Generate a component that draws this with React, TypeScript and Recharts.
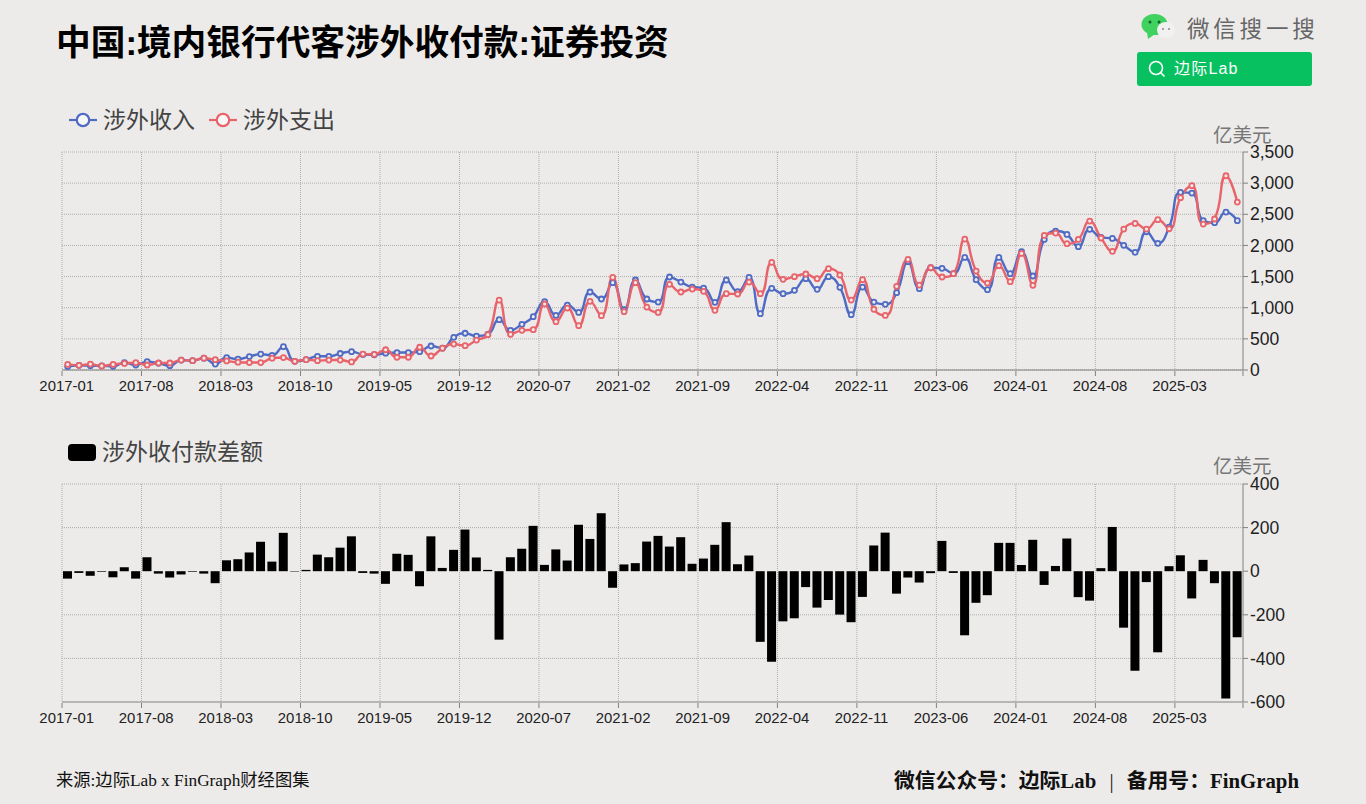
import { Bar, BarChart, CartesianGrid, Line, LineChart, XAxis, YAxis } from "recharts";

const months = [
  "2017-01", "2017-02", "2017-03", "2017-04", "2017-05", "2017-06", "2017-07", "2017-08", "2017-09", "2017-10", "2017-11", "2017-12",
  "2018-01", "2018-02", "2018-03", "2018-04", "2018-05", "2018-06", "2018-07", "2018-08", "2018-09", "2018-10", "2018-11", "2018-12",
  "2019-01", "2019-02", "2019-03", "2019-04", "2019-05", "2019-06", "2019-07", "2019-08", "2019-09", "2019-10", "2019-11", "2019-12",
  "2020-01", "2020-02", "2020-03", "2020-04", "2020-05", "2020-06", "2020-07", "2020-08", "2020-09", "2020-10", "2020-11", "2020-12",
  "2021-01", "2021-02", "2021-03", "2021-04", "2021-05", "2021-06", "2021-07", "2021-08", "2021-09", "2021-10", "2021-11", "2021-12",
  "2022-01", "2022-02", "2022-03", "2022-04", "2022-05", "2022-06", "2022-07", "2022-08", "2022-09", "2022-10", "2022-11", "2022-12",
  "2023-01", "2023-02", "2023-03", "2023-04", "2023-05", "2023-06", "2023-07", "2023-08", "2023-09", "2023-10", "2023-11", "2023-12",
  "2024-01", "2024-02", "2024-03", "2024-04", "2024-05", "2024-06", "2024-07", "2024-08", "2024-09", "2024-10", "2024-11", "2024-12",
  "2025-01", "2025-02", "2025-03", "2025-04", "2025-05", "2025-06", "2025-07", "2025-08",
];

const income = [
  55, 75, 70, 65, 60, 118, 80, 135, 110, 70, 160, 150,
  190, 95, 200, 175, 215, 255, 235, 375, 140, 165, 220, 220,
  265, 295, 250, 245, 270, 280, 280, 295, 385, 350, 524, 590,
  545, 573, 808, 637, 733, 856, 1097, 877, 1043, 925, 1252, 1140,
  1402, 967, 1445, 1140, 1091, 1493, 1412, 1332, 1316, 1086, 1445, 1257,
  1487, 904, 1311, 1225, 1279, 1466, 1295, 1498, 1327, 888, 1332, 1091,
  1054, 1241, 1739, 1305, 1642, 1632, 1546, 1808, 1450, 1289, 1808, 1546,
  1899, 1509, 2097, 2231, 2177, 1980, 2258, 2129, 2113, 2001, 1889, 2220,
  2033, 2295, 2852, 2841, 2397, 2365, 2536, 2397,
];

const expense = [
  90, 75, 95, 65, 90, 105, 118, 80, 112, 112, 160, 150,
  190, 165, 145, 125, 120, 120, 190, 200, 140, 165, 150, 160,
  160, 130, 255, 250, 325, 205, 205, 365, 225, 350, 417, 390,
  481, 567, 1123, 572, 637, 647, 1060, 776, 995, 712, 1102, 872,
  1487, 936, 1402, 1011, 925, 1375, 1252, 1300, 1263, 958, 1225, 1220,
  1412, 1225, 1728, 1455, 1498, 1541, 1466, 1626, 1525, 1123, 1450, 974,
  877, 1343, 1776, 1364, 1642, 1493, 1546, 2102, 1589, 1396, 1675, 1418,
  1872, 1359, 2161, 2199, 2028, 2097, 2391, 2119, 1905, 2263, 2354, 2263,
  2413, 2268, 2766, 2959, 2343, 2424, 3119, 2696,
];

const balance = [
  -34, -8, -21, -3, -28, 18, -34, 64, -11, -29, -15, -3,
  -11, -55, 50, 55, 86, 135, 44, 176, -2, 6, 76, 64,
  108, 160, -8, -11, -58, 80, 75, -69, 160, 15, 98, 191,
  63, 6, -314, 64, 103, 208, 29, 100, 49, 213, 148, 266,
  -76, 31, 37, 136, 162, 113, 156, 34, 58, 121, 225, 32,
  72, -324, -415, -230, -216, -73, -167, -132, -199, -234, -118, 118,
  177, -103, -29, -52, -9, 139, -8, -294, -145, -110, 130, 130,
  29, 144, -63, 24, 150, -119, -135, 14, 203, -259, -457, -50,
  -372, 23, 73, -125, 52, -55, -584, -303,
];

const lineTicks = [0, 500, 1000, 1500, 2000, 2500, 3000, 3500];
const barTicks = [-600, -400, -200, 0, 200, 400];
const barGridValues = [-400, -200, 200, 400];

const lineData = months.map((month, i) => ({ month, income: income[i], expense: expense[i] }));
const barData = months.map((month, i) => ({ month, balance: balance[i] }));

const BLUE = "#4f6bc4";
const RED = "#e9636b";
const BG = "#ecebe9";
const CHART_WIDTH = 1366;
const TICK_EVERY = 7;
const SANS = '"Liberation Sans", "Noto Sans CJK SC", sans-serif';
const SERIF = '"Liberation Serif", "Noto Sans CJK SC", serif';
const band = (1243 - 62) / months.length;

const clamp = (v: number, a: number, b: number) => Math.max(Math.min(a, b), Math.min(v, Math.max(a, b)));

// rounder than "monotone": long bezier handles, clamped so peaks do not overshoot
function smoothCurve(context: any) {
  let pts: [number, number][] = [];
  const smooth = 0.5;
  return {
    areaStart() {},
    areaEnd() {},
    lineStart() {
      pts = [];
    },
    point(x: number, y: number) {
      pts.push([+x, +y]);
    },
    lineEnd() {
      const outCp: [number, number][] = [];
      const inCp: [number, number][] = [];
      pts.forEach(([x, y], i) => {
        const prev = pts[Math.max(i - 1, 0)];
        const next = pts[Math.min(i + 1, pts.length - 1)];
        const d0 = Math.hypot(x - prev[0], y - prev[1]);
        const d1 = Math.hypot(next[0] - x, next[1] - y);
        const sum = d0 + d1 || 1;
        const ox = clamp(x + (next[0] - prev[0]) * smooth * (d1 / sum), x, next[0]);
        const oy = clamp(y + (next[1] - prev[1]) * smooth * (d1 / sum), y, next[1]);
        const k = d1 ? d0 / d1 : 0;
        const ix = clamp(x - (ox - x) * k, x, prev[0]);
        const iy = clamp(y - (oy - y) * k, y, prev[1]);
        const back = d0 ? d1 / d0 : 0;
        inCp.push([ix, iy]);
        outCp.push(d0 ? [x + (x - ix) * back, y + (y - iy) * back] : [ox, oy]);
      });
      pts.forEach(([x, y], i) => {
        if (i === 0) context.moveTo(x, y);
        else context.bezierCurveTo(outCp[i - 1][0], outCp[i - 1][1], inCp[i][0], inCp[i][1], x, y);
      });
    },
  };
}

// labels sit on the band centre, tick marks on the band edge
function MonthTick({ x, y, payload }: any) {
  const edge = x - band / 2;
  const isLast = payload.value === "2025-03";
  return (
    <g>
      <line x1={edge} x2={edge} y1={y - 2} y2={y + 3} stroke="#808080" />
      {isLast && (
        <line x1={edge + band * 6} x2={edge + band * 6} y1={y - 2} y2={y + 3} stroke="#808080" />
      )}
      <text x={x - 1} y={y + 18} textAnchor="middle" fontSize={14.9} fontFamily={SANS} fill="#222">
        {payload.value}
      </text>
    </g>
  );
}

function gridColumns({ offset }: any) {
  const cols = [];
  for (let i = 0; i <= months.length; i += TICK_EVERY) {
    cols.push(offset.left + (i * offset.width) / months.length);
  }
  return cols;
}

function Label({ left, top, size, color, font, weight, spacing, children }: any) {
  return (
    <div
      style={{
        position: "absolute",
        left,
        top,
        fontSize: size,
        color,
        fontFamily: font ?? SANS,
        fontWeight: weight ?? 400,
        letterSpacing: spacing ?? 0,
        lineHeight: 1,
        whiteSpace: "nowrap",
      }}
    >
      {children}
    </div>
  );
}

function LegendLine({ left, color }: { left: number; color: string }) {
  return (
    <svg style={{ position: "absolute", left, top: 108 }} width={30} height={24}>
      <line x1={1} x2={29} y1={12} y2={12} stroke={color} strokeWidth={2.2} />
      <circle cx={15} cy={12} r={6.2} fill="#f7f7f7" stroke={color} strokeWidth={2.2} />
    </svg>
  );
}

function Badge() {
  return (
    <>
      <svg style={{ position: "absolute", left: 1139, top: 13 }} width={38} height={28}>
        <ellipse cx={15.5} cy={11.5} rx={13} ry={10.5} fill="#3fd25f" />
        <path d="M8 19 L9 26 L16 21 Z" fill="#3fd25f" />
        <circle cx={11} cy={9} r={1.5} fill="#18602c" />
        <circle cx={20} cy={9} r={1.5} fill="#18602c" />
        <ellipse cx={27} cy={17} rx={9} ry={8} fill="#f1f1f1" />
        <circle cx={24} cy={16} r={1} fill="#888" />
        <circle cx={30} cy={16} r={1} fill="#888" />
      </svg>
      <Label left={1187} top={19} size={22.5} color="#666" spacing={3.8}>微信搜一搜</Label>
      <div style={{ position: "absolute", left: 1137, top: 52, width: 175, height: 34, background: "#07c160", borderRadius: 3 }} />
      <svg style={{ position: "absolute", left: 1146, top: 58 }} width={22} height={22}>
        <circle cx={10} cy={10} r={6.5} fill="none" stroke="#fff" strokeWidth={1.6} />
        <line x1={14.8} y1={14.8} x2={18.5} y2={18.5} stroke="#fff" strokeWidth={1.6} />
      </svg>
      <Label left={1174} top={61} size={16} color="#fff" spacing={1.2}>边际Lab</Label>
    </>
  );
}

export default function App() {
  return (
    <div style={{ position: "absolute", left: 0, top: 0, width: 1366, height: 804, background: BG, overflow: "hidden" }}>
      <Label left={56} top={26} size={34.7} color="#000" weight={700}>中国:境内银行代客涉外收付款:证券投资</Label>
      <Badge />

      <LegendLine left={68} color={BLUE} />
      <Label left={103} top={109} size={23} color="#444">涉外收入</Label>
      <LegendLine left={208} color={RED} />
      <Label left={243} top={109} size={23} color="#444">涉外支出</Label>
      <Label left={1213} top={126} size={19.5} color="#777">亿美元</Label>

      <div style={{ position: "absolute", left: 0, top: 0 }}>
        <LineChart width={CHART_WIDTH} height={400} data={lineData} margin={{ top: 152, right: 63, bottom: 0, left: 62 }}>
          <CartesianGrid stroke="#adadad" strokeDasharray="1 1" verticalCoordinatesGenerator={gridColumns} />
          <XAxis dataKey="month" scale="band" interval={TICK_EVERY - 1} height={30} tick={<MonthTick />} tickLine={false} tickSize={0} tickMargin={3} axisLine={{ stroke: "#808080" }} />
          <YAxis
            orientation="right"
            width={60}
            domain={[0, 3500]}
            ticks={lineTicks}
            tickFormatter={(v: number) => v.toLocaleString("en-US")}
            tick={{ fontSize: 17.5, fontFamily: SANS, fill: "#222" }}
            tickSize={5}
            tickMargin={2}
            stroke="#808080"
          />
          <Line dataKey="income" type={smoothCurve as any} stroke={BLUE} strokeWidth={2.4} dot={{ r: 2.5, fill: BG, stroke: BLUE, strokeWidth: 1.8 }} isAnimationActive={false} />
          <Line dataKey="expense" type={smoothCurve as any} stroke={RED} strokeWidth={2.4} dot={{ r: 2.5, fill: BG, stroke: RED, strokeWidth: 1.8 }} isAnimationActive={false} />
        </LineChart>
      </div>

      <div style={{ position: "absolute", left: 68, top: 444, width: 28, height: 17, background: "#000", borderRadius: 4 }} />
      <Label left={102} top={441} size={23} color="#444">涉外收付款差额</Label>
      <Label left={1213} top={457} size={19.5} color="#777">亿美元</Label>

      <div style={{ position: "absolute", left: 0, top: 420 }}>
        <BarChart width={CHART_WIDTH} height={312} data={barData} margin={{ top: 64, right: 63, bottom: 0, left: 62 }}>
          <CartesianGrid stroke="#adadad" strokeDasharray="1 1" verticalCoordinatesGenerator={gridColumns} horizontalValues={barGridValues} />
          <XAxis dataKey="month" interval={TICK_EVERY - 1} height={30} tick={<MonthTick />} tickLine={false} tickSize={0} tickMargin={3} axisLine={{ stroke: "#808080" }} />
          <YAxis
            orientation="right"
            width={60}
            domain={[-600, 400]}
            ticks={barTicks}
            tick={{ fontSize: 17.5, fontFamily: SANS, fill: "#222" }}
            tickSize={5}
            tickMargin={2}
            stroke="#808080"
          />
          <Bar dataKey="balance" fill="#000" barSize={9} isAnimationActive={false} />
        </BarChart>
      </div>

      <Label left={56} top={772} size={17.3} color="#111" font={SERIF}>来源:边际Lab x FinGraph财经图集</Label>
      <Label left={894} top={771} size={20.8} color="#111" font={SERIF} weight={700}>
        微信公众号：边际Lab<span style={{ margin: "0 8px", fontWeight: 400 }}> | </span>备用号：FinGraph
      </Label>
    </div>
  );
}
